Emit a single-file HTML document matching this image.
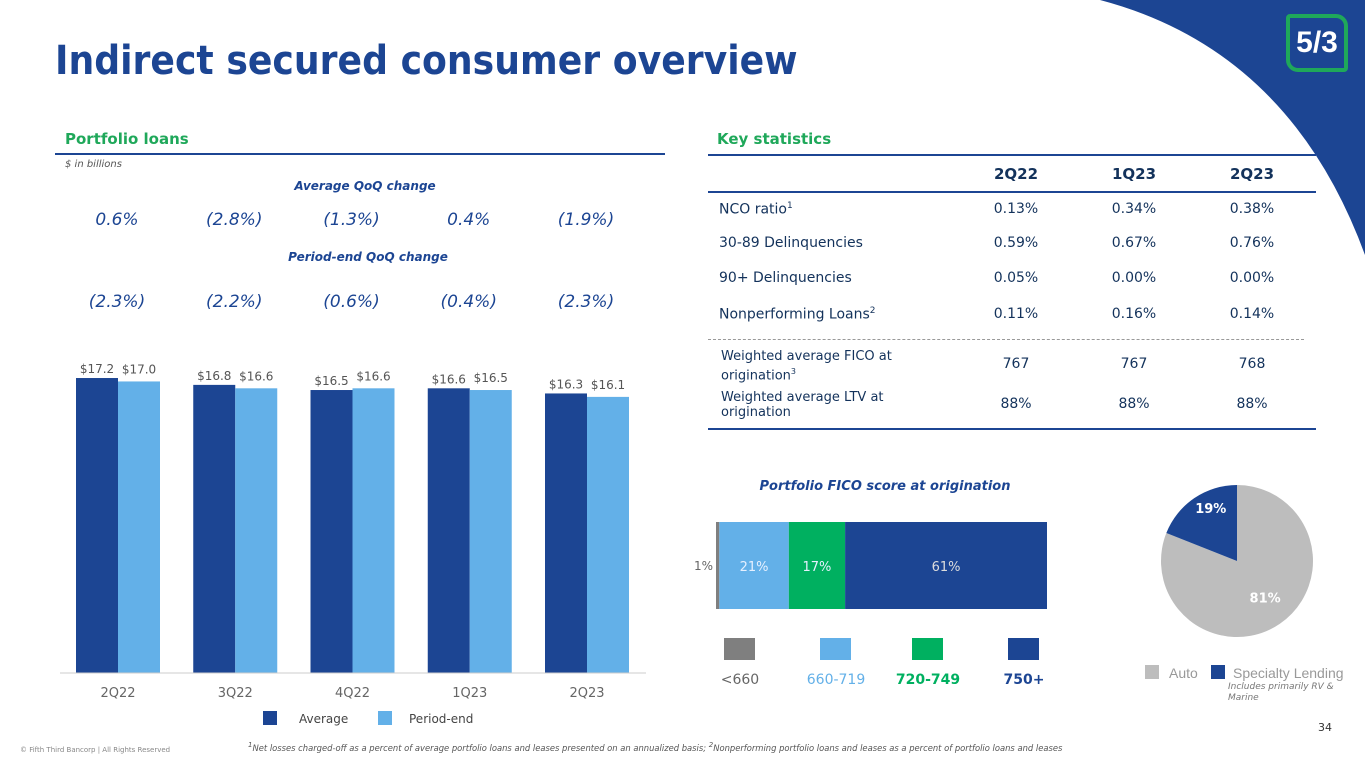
<!DOCTYPE html>
<html><head><meta charset="utf-8"><style>
body{margin:0;width:1365px;height:768px;position:relative;overflow:hidden;background:#fff;font-family:"DejaVu Sans","Liberation Sans",sans-serif;}
.a{position:absolute;white-space:nowrap}
.c{transform:translateX(-50%)}
</style></head><body>
<svg class="a" style="left:0;top:0" width="1365" height="768">
<path d="M1100,0 Q1290,50 1365,255 L1365,0 Z" fill="#1c4593"/>
</svg>
<div class="a" style="left:1286px;top:14px;width:62px;height:58px;background:#1c4593;border:4px solid #1fa85a;border-radius:4px 12px 4px 12px;box-sizing:border-box;color:#fff;font:bold 30px 'Liberation Sans',sans-serif;text-align:center;line-height:50px">5/3</div>
<div class="a" style="left:55px;top:38px;font-size:40px;font-weight:bold;color:#1c4593;transform:scaleX(0.905);transform-origin:left top">Indirect secured consumer overview</div>

<div class="a" style="left:65px;top:130px;font-size:15px;font-weight:bold;color:#1fa85a">Portfolio loans</div>
<div class="a" style="left:55px;top:153px;width:610px;height:2px;background:#1c4593"></div>
<div class="a" style="left:65px;top:159px;font-size:10px;font-style:italic;color:#555">$ in billions</div>
<div class="a c" style="left:365px;top:179px;font-size:12px;font-weight:bold;font-style:italic;color:#1c4593">Average QoQ change</div>
<div class="a c" style="left:368px;top:250px;font-size:12px;font-weight:bold;font-style:italic;color:#1c4593">Period-end QoQ change</div>
<div id="qoq"></div>

<svg id="bars" class="a" style="left:0;top:0" width="680" height="740"></svg>

<div class="a" style="left:717px;top:130px;font-size:15px;font-weight:bold;color:#1fa85a">Key statistics</div>
<div id="tbl"></div>

<div class="a c" style="left:885px;top:479px;font-size:13px;font-weight:bold;font-style:italic;color:#1c4593">Portfolio FICO score at origination</div>
<svg id="fico" class="a" style="left:0;top:0" width="1365" height="768"></svg>

<div class="a" style="left:1228px;top:682px;font-size:9px;font-style:italic;color:#777;line-height:11px;white-space:normal;width:120px">Includes primarily RV &amp;<br>Marine</div>
<div class="a" style="left:1318px;top:721px;font-size:11px;color:#333">34</div>
<div class="a" style="left:20px;top:746px;font-size:7px;color:#888">© Fifth Third Bancorp | All Rights Reserved</div>
<div class="a" style="left:248px;top:741px;font-size:8.4px;font-style:italic;color:#555"><sup>1</sup>Net losses charged-off as a percent of average portfolio loans and leases presented on an annualized basis; <sup>2</sup>Nonperforming portfolio loans and leases as a percent of portfolio loans and leases</div>

<script>
const quarters=["2Q22","3Q22","4Q22","1Q23","2Q23"];
const avgLoans=[17.2,16.8,16.5,16.6,16.3];
const peLoans=[17.0,16.6,16.6,16.5,16.1];
const avgQoQ=["0.6%","(2.8%)","(1.3%)","0.4%","(1.9%)"];
const peQoQ=["(2.3%)","(2.2%)","(0.6%)","(0.4%)","(2.3%)"];
const ficoCats=["<660","660-719","720-749","750+"];
const ficoVals=[1,21,17,61];
const pieCats=["Auto","Specialty Lending"];
const pieVals=[81,19];

const NS="http://www.w3.org/2000/svg";
function mk(p,t,at){const e=document.createElementNS(NS,t);for(const k in at)e.setAttribute(k,at[k]);p.appendChild(e);return e;}
function tx(p,x,y,s,at){const e=mk(p,"text",Object.assign({x:x,y:y,"font-family":"DejaVu Sans, Liberation Sans, sans-serif"},at));e.textContent=s;return e;}

const q=document.getElementById('qoq');
const xc=i=>118+i*117.25;
quarters.forEach((d,i)=>{
 const a=document.createElement('div');a.className='a c';a.style.cssText=`left:${xc(i)-1}px;top:210px;font-size:17px;font-style:italic;color:#1c4593`;a.textContent=avgQoQ[i];
 
 
 q.appendChild(a);
 const b=document.createElement('div');b.className='a c';b.style.cssText=`left:${xc(i)-1}px;top:292px;font-size:17px;font-style:italic;color:#1c4593`;b.textContent=peQoQ[i];
 
 
 q.appendChild(b);
});

const sv=document.getElementById('bars');
const y0=673,k=17.15,bw=42;
const ys=v=>y0-v*k;
quarters.forEach((d,i)=>{
 const c=xc(i);
 const r1=mk(sv,"rect",{x:c-bw,y:ys(avgLoans[i]),width:bw,height:y0-ys(avgLoans[i]),fill:"#1c4593"});
 
 
 const r2=mk(sv,"rect",{x:c,y:ys(peLoans[i]),width:bw,height:y0-ys(peLoans[i]),fill:"#63b0e8"});
 
 
 tx(sv,c-bw/2,ys(avgLoans[i])-5,"$"+avgLoans[i].toFixed(1),{"font-size":12,fill:"#555","text-anchor":"middle"});
 tx(sv,c+bw/2,ys(peLoans[i])-8,"$"+peLoans[i].toFixed(1),{"font-size":12,fill:"#555","text-anchor":"middle"});
 const l=tx(sv,c,697,d,{"font-size":13,fill:"#666","text-anchor":"middle"});
 
 
});
mk(sv,"line",{x1:60,x2:646,y1:y0,y2:y0,stroke:"#ccc","stroke-width":1});
mk(sv,"rect",{x:263,y:711,width:14,height:14,fill:"#1c4593"});
tx(sv,299,723,"Average",{"font-size":12,fill:"#444"});
mk(sv,"rect",{x:378,y:711,width:14,height:14,fill:"#63b0e8"});
tx(sv,409,723,"Period-end",{"font-size":12,fill:"#444"});

const t=document.getElementById('tbl');
const cols=[1016,1134,1252];
function add(html,css,name){const d=document.createElement('div');d.className='a';d.style.cssText=css;d.innerHTML=html;t.appendChild(d);}
add('','left:708px;top:154px;width:608px;height:2px;background:#1c4593','table-top-rule');
add('','left:708px;top:191px;width:608px;height:2px;background:#1c4593','table-header-rule');
add('','left:708px;top:339px;width:596px;border-top:1px dashed #999','table-dashed-rule');
add('','left:708px;top:428px;width:608px;height:2px;background:#1c4593','table-bottom-rule');
["2Q22","1Q23","2Q23"].forEach((h,i)=>add(h,`left:${cols[i]}px;top:165px;font-size:15px;font-weight:bold;color:#13325b;transform:translateX(-50%)`,'table-header'));
const rows=[["NCO ratio<sup style='font-size:9px'>1</sup>",["0.13%","0.34%","0.38%"],201],["30-89 Delinquencies",["0.59%","0.67%","0.76%"],235],["90+ Delinquencies",["0.05%","0.00%","0.00%"],270],["Nonperforming Loans<sup style='font-size:9px'>2</sup>",["0.11%","0.16%","0.14%"],306],["",["767","767","768"],356],["",["88%","88%","88%"],396]];
rows.forEach(r=>{ if(r[0])add(r[0],`left:719px;top:${r[2]}px;font-size:14px;color:#13325b`,'row-label');
 r[1].forEach((v,i)=>add(v,`left:${cols[i]}px;top:${r[2]}px;font-size:14px;color:#13325b;transform:translateX(-50%)`,'table-cell'));});
add("Weighted average FICO at<br>origination<sup style='font-size:8px'>3</sup>",'left:721px;top:349px;font-size:13px;line-height:15px;color:#13325b','row-label');
add("Weighted average LTV at<br>origination",'left:721px;top:390px;font-size:13px;line-height:15px;color:#13325b','row-label');

const f=document.getElementById('fico');
const fcol=["#7f7f7f","#63b0e8","#00b060","#1c4593"];
const fx0=716,fw=331,tot=ficoVals.reduce((a,b)=>a+b,0);
let acc=0;
ficoVals.forEach((v,i)=>{
 const x=fx0+acc/tot*fw,w=v/tot*fw;acc+=v;
 const r=mk(f,"rect",{x:x,y:522,width:w,height:87,fill:fcol[i]});
 
 
 if(i==0)tx(f,x-3,570,v+"%",{"font-size":12,fill:"#666","text-anchor":"end"});
 else tx(f,x+w/2,571,v+"%",{"font-size":13,fill:i==3?"#ddd":"#e6f0ff","text-anchor":"middle"});
 const lx=[740,836,928,1024][i];
 mk(f,"rect",{x:lx-16,y:638,width:31,height:22,fill:fcol[i]});
 tx(f,lx,684,ficoCats[i],{"font-size":14,fill:i==0?"#666":fcol[i],"font-weight":i>=2?"bold":"normal","text-anchor":"middle"});
});
const cx=1237,cy=561,R=76;
const pcol=["#bdbdbd","#1c4593"];
let a0=0;const ptot=pieVals[0]+pieVals[1];
pieVals.forEach((v,i)=>{
 const a1=a0+v/ptot*2*Math.PI;
 const p=(a)=>[cx+R*Math.sin(a),cy-R*Math.cos(a)];
 const s=p(a0),e=p(a1);
 const pa=mk(f,"path",{d:`M${cx},${cy}L${s[0]},${s[1]}A${R},${R} 0 ${a1-a0>Math.PI?1:0} 1 ${e[0]},${e[1]}Z`,fill:pcol[i]});
 
 
 const m=(a0+a1)/2,rr=i==0?50:52;
 tx(f,cx+rr*Math.sin(m)+(i==0?0:3),cy-rr*Math.cos(m)+(i==0?0:-5),v+"%",{"font-size":13,fill:"#fff","font-weight":"bold","text-anchor":"middle"});
 a0=a1;
});
mk(f,"rect",{x:1145,y:665,width:14,height:14,fill:"#bdbdbd"});
tx(f,1169,678,"Auto",{"font-size":14,fill:"#999","font-family":"Liberation Sans, sans-serif"});
mk(f,"rect",{x:1211,y:665,width:14,height:14,fill:"#1c4593"});
tx(f,1233,678,"Specialty Lending",{"font-size":14,fill:"#999","font-family":"Liberation Sans, sans-serif"});
</script>
</body></html>
